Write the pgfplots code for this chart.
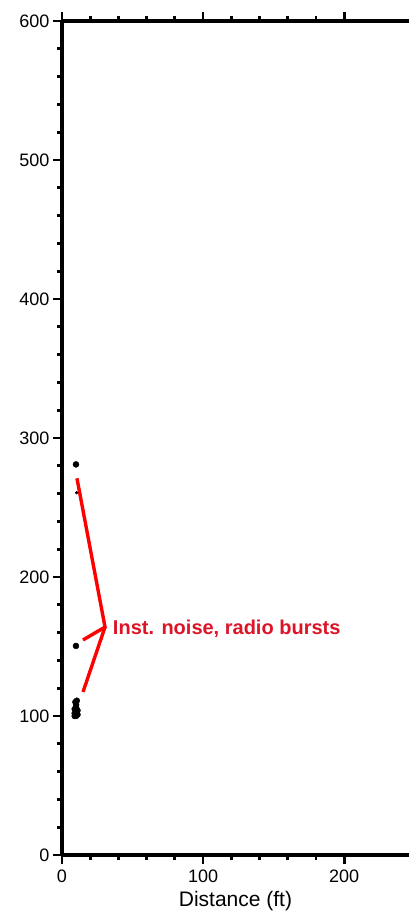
\documentclass[border=0pt]{standalone}
\usepackage{fontspec}
\setmainfont{Liberation Sans}
\usepackage{pgfplots}
\pgfplotsset{compat=1.18}
\definecolor{annred}{RGB}{220,20,40}
\begin{document}
\begin{tikzpicture}
\begin{axis}[
  at={(0,0)}, anchor=south west,
  scale only axis, width=347pt, height=834pt,
  xmin=0, xmax=246, ymin=0, ymax=600,
  separate axis lines,
  axis x line=box, axis y line=left,
  x axis line style={-}, y axis line style={-},
  axis line style={line width=4pt},
  xtick={0,100,200}, minor x tick num=4,
  ytick={0,100,200,300,400,500,600}, minor y tick num=4,
  xtick pos=both, ytick pos=left,
  tick align=outside,
  major tick length=9pt, minor tick length=5pt,
  every tick/.style={black, line width=2.8pt},
  /pgf/number format/assume math mode=true,
  tick label style={font=\fontsize{18}{18}\selectfont},
  xticklabel style={yshift=-2pt},
  xlabel={Distance (ft)},
  xlabel style={font=\fontsize{21}{21}\selectfont, yshift=-2pt},
  clip=false,
]
\addplot[only marks, mark=*, mark size=3pt, black] coordinates {
  (9.9,281) (9.9,150.4)
  (9,100) (10,100) (11,101) (9,102) (10,103) (11,104) (9,105) (10,106) (10,108) (9.5,110) (10.5,111)
};
\addplot[only marks, mark=*, mark size=1.4pt, black] coordinates {(10.4,260.6)};
\draw[red, line width=3.4pt] (axis cs:10.6,271) -- (axis cs:30.5,164) -- (axis cs:14.9,154.7);
\draw[red, line width=3.4pt] (axis cs:30.5,164) -- (axis cs:14.9,117.3);
\node[anchor=west, text=annred, font=\fontsize{20}{20}\selectfont\bfseries, inner sep=0pt] at (axis cs:36,163) {Inst. noise, radio bursts};
\end{axis}
\pgfresetboundingbox
\useasboundingbox (-62pt,-62pt) rectangle (347pt,855pt);
\end{tikzpicture}
\end{document}
